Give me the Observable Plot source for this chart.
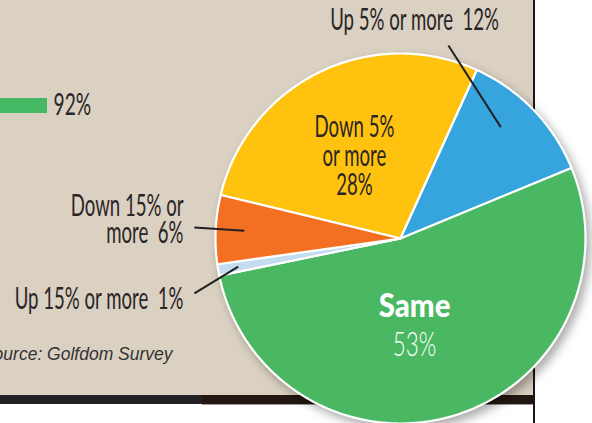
<!DOCTYPE html>
<html>
<head>
<meta charset="utf-8">
<script src="https://cdn.jsdelivr.net/npm/d3@7"></script>
<script src="https://cdn.jsdelivr.net/npm/@observablehq/plot@0.6"></script>
<style>
html, body { margin: 0; padding: 0; background: #fff; }
#wrap { position: relative; width: 592px; height: 423px; overflow: hidden; background: #fff; }
#panel { position: absolute; left: 0; top: 0; width: 534px; height: 395px; background: #dad1c2; }
#rule-r { position: absolute; left: 533px; top: 0; width: 2px; height: 423px; background: #1c1616; }
#rule-b1 { position: absolute; left: 0; top: 395px; width: 202px; height: 9px; background: #232024; }
#rule-b2 { position: absolute; left: 202px; top: 395px; width: 333px; height: 9px; background: #221711; }
#shade { position: absolute; left: 202px; top: 404px; width: 331px; height: 1px; background: #a09a98; }
.layer { position: absolute; left: 0; top: 0; }
</style>
</head>
<body>
<div id="wrap">
  <div id="panel"></div>
  <div id="rule-b1"></div>
  <div id="rule-b2"></div>
  <div id="shade"></div>
  <div id="rule-r"></div>
</div>
<script>
// ---------- data ----------
const categories = ["Down 5% or more", "Up 5% or more", "Same", "Up 15% or more", "Down 15% or more"];
const values = [28, 12, 53, 1, 6];
const sliceColors = ["#fec20f", "#36a5dd", "#4ab862", "#c4dcf2", "#f37022"];
const sideBarLabels = ["Other"];
const sideBarValues = [92];
const sourceNote = "Source: Golfdom Survey";

// ---------- layout (pie units: centre 0,0, radius 1) ----------
const startDeg = -76.4;
const layout = {
  "Down 5% or more": {u: -0.249, v: 0.443, group: "mid", text: v => `Down 5%\nor more\n${v}%`},
  "Up 5% or more": {u: 0.076, v: 1.178, group: "mid", text: v => `Up 5% or more\u00a0 ${v}%`, leader: {r: 0.81, da: -4, u: 0.259, v: 1.043}},
  "Up 15% or more": {u: -1.173, v: -0.332, group: "end", text: v => `Up 15% or more\u00a0 ${v}%`, leader: {r: 0.89, da: 0, u: -1.114, v: -0.297}},
  "Down 15% or more": {u: -1.173, v: 0.097, group: "end", text: v => `Down 15% or\nmore\u00a0 ${v}%`, leader: {r: 0.845, da: 0, u: -1.114, v: 0.059}},
  "Same": {u: 0.076, v: -0.370, v2: -0.576}
};

// ---------- derived geometry ----------
const total = d3.sum(values);
let acc = startDeg;
const slices = categories.map((cat, i) => {
  const a0 = acc, a1 = acc + values[i] / total * 360;
  acc = a1;
  return {cat, value: values[i], color: sliceColors[i], a0, a1, mid: (a0 + a1) / 2};
});
const rad = d => d * Math.PI / 180;
const pieRows = slices.flatMap(s => {
  const pts = [{cat: s.cat, color: s.color, x: 0, y: 0}];
  const n = Math.max(2, Math.ceil(s.a1 - s.a0));
  for (let k = 0; k <= n; k++) {
    const a = rad(s.a0 + (s.a1 - s.a0) * k / n);
    pts.push({cat: s.cat, color: s.color, x: Math.sin(a), y: Math.cos(a)});
  }
  return pts;
});
const labelRows = slices.filter(s => layout[s.cat].group).map(s => ({
  group: layout[s.cat].group, x: layout[s.cat].u, y: layout[s.cat].v, text: layout[s.cat].text(s.value)
}));
const leaders = slices.filter(s => layout[s.cat].leader).map(s => {
  const L = layout[s.cat].leader, a = rad(s.mid + L.da);
  return {x1: L.u, y1: L.v, x2: L.r * Math.sin(a), y2: L.r * Math.cos(a)};
});
const same = slices.find(s => s.cat === "Same");

const textColor = "#2a2526";
const squeeze = [];
function tx(data, opts, s) { squeeze.push(s); return Plot.text(data, opts); }

const pie = Plot.plot({
  width: 592, height: 423, margin: 0,
  style: {background: "transparent", overflow: "visible"},
  x: {domain: [-1, 1], range: [215, 585], axis: null},
  y: {domain: [-1, 1], range: [423, 53], axis: null},
  color: {type: "identity"},
  marks: [
    Plot.line(pieRows, {x: "x", y: "y", z: "cat", fill: "color", stroke: "white", strokeWidth: 2.2, strokeLinejoin: "round", curve: "linear-closed"}),
    Plot.link(leaders, {x1: "x1", y1: "y1", x2: "x2", y2: "y2", stroke: "#231f20", strokeWidth: 2}),
    tx(labelRows.filter(d => d.group === "mid"), {x: "x", y: "y", text: "text", textAnchor: "middle", lineAnchor: "middle", lineHeight: 0.98, fontSize: 30, fontWeight: 400, fontFamily: "Lato", fill: textColor}, 0.62),
    tx(labelRows.filter(d => d.group === "end"), {x: "x", y: "y", text: "text", textAnchor: "end", lineAnchor: "middle", lineHeight: 0.93, fontSize: 30, fontWeight: 400, fontFamily: "Lato", fill: textColor}, 0.62),
    tx([same], {x: () => layout.Same.u, y: () => layout.Same.v, text: () => "Same", textAnchor: "middle", fontSize: 32, fontWeight: 900, fontFamily: "Lato", fill: "white"}, 0.92),
    tx([same], {x: () => layout.Same.u, y: () => layout.Same.v2, text: d => `${d.value}%`, textAnchor: "middle", fontSize: 33, fontWeight: 300, fontFamily: "Lato", fill: "white"}, 0.68),
    tx([sourceNote], {x: () => -1.232, y: () => -0.624, text: d => d, textAnchor: "end", fontSize: 17.5, fontStyle: "italic", fontFamily: "Liberation Sans", fill: "#333"}, 1)
  ]
});

const sideRows = sideBarLabels.map((label, i) => ({label, value: sideBarValues[i]}));
const side = Plot.plot({
  width: 592, height: 423, margin: 0,
  style: {background: "transparent", overflow: "visible"},
  x: {domain: [0, 100], range: [-455, 90.65], axis: null},
  y: {domain: sideBarLabels, range: [98, 113], padding: 0, axis: null},
  marks: [
    Plot.barX(sideRows, {x: "value", y: "label", fill: "#45b863"}),
    Plot.text(sideRows, {x: "value", y: "label", text: d => `${d.value}%`, dx: 6, dy: -1, textAnchor: "start", fontSize: 30, fontWeight: 400, fontFamily: "Lato", fill: textColor})
  ]
});

side.classList.add("layer");
pie.classList.add("layer");
const wrap = document.getElementById("wrap");
const ruleR = document.getElementById("rule-r");
wrap.insertBefore(side, ruleR);
wrap.insertBefore(pie, ruleR);
wrap.insertBefore(ruleR, side);

function applySqueeze(svg, factors) {
  svg.querySelectorAll('g[aria-label="text"]').forEach((g, i) => {
    const s = factors[i];
    if (s == null || s === 1) return;
    g.querySelectorAll("text").forEach(t => {
      const spans = t.querySelectorAll("tspan");
      const targets = spans.length ? Array.from(spans) : [t];
      targets.forEach(el => {
        const len = el.getComputedTextLength();
        el.setAttribute("textLength", (len * s).toFixed(2));
        el.setAttribute("lengthAdjust", "spacingAndGlyphs");
      });
    });
  });
}
applySqueeze(pie, squeeze);
applySqueeze(side, [0.64]);

pie.querySelector('g[aria-label="line"]').style.filter = "drop-shadow(4px 5px 5px rgba(0,0,0,0.32))";
</script>
</body>
</html>
